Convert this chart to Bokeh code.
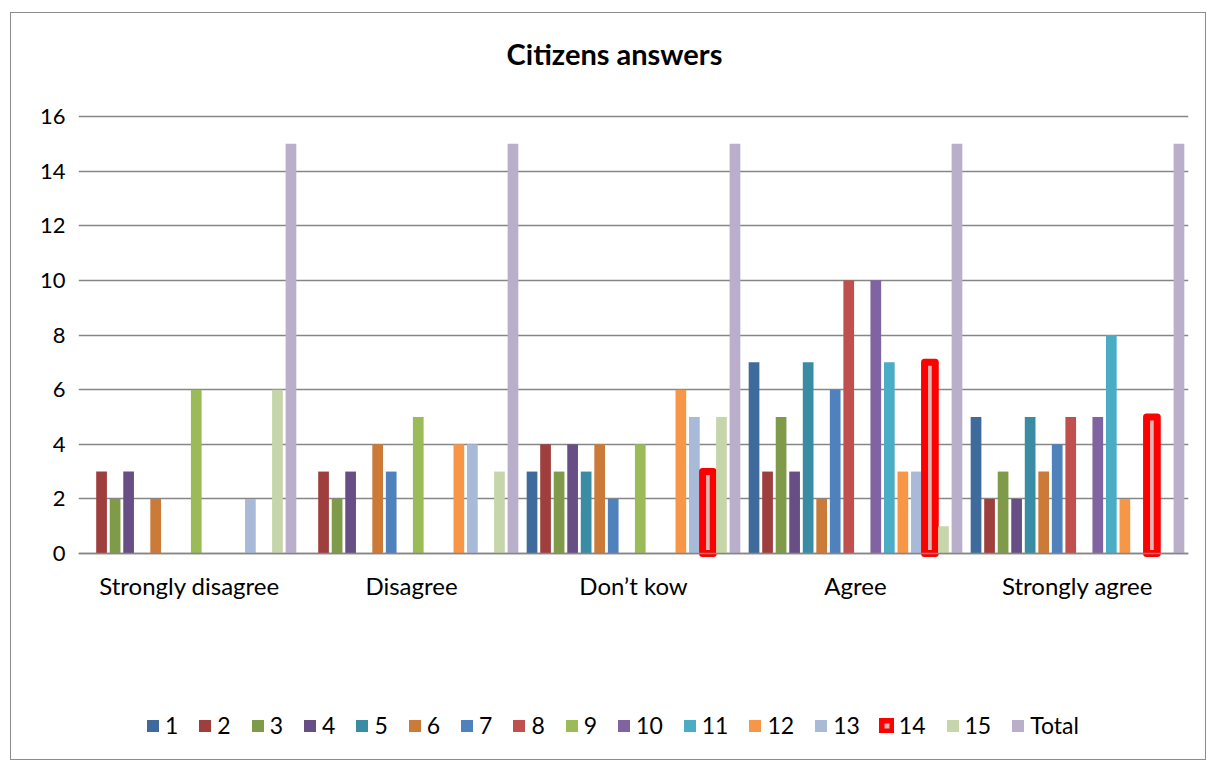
from bokeh.plotting import figure
from bokeh.models import (ColumnDataSource, FactorRange, Range1d, Legend, LegendItem,
                          FixedTicker, CategoricalAxis, Label)
from bokeh.transform import dodge
from bokeh.embed import file_html
from bokeh.resources import INLINE

title_text = "Citizens answers"
categories = ["Strongly disagree", "Disagree", "Don\u2019t kow", "Agree", "Strongly agree"]
series_names = ["1", "2", "3", "4", "5", "6", "7", "8", "9", "10",
                "11", "12", "13", "14", "15", "Total"]

s1 = [0, 0, 3, 7, 5]
s2 = [3, 3, 4, 3, 2]
s3 = [2, 2, 3, 5, 3]
s4 = [3, 3, 4, 3, 2]
s5 = [0, 0, 3, 7, 5]
s6 = [2, 4, 4, 2, 3]
s7 = [0, 3, 2, 6, 4]
s8 = [0, 0, 0, 10, 5]
s9 = [6, 5, 4, 0, 0]
s10 = [0, 0, 0, 10, 5]
s11 = [0, 0, 0, 7, 8]
s12 = [0, 4, 6, 3, 2]
s13 = [2, 4, 5, 3, 0]
s14 = [0, 0, 3, 7, 5]
s15 = [6, 3, 5, 1, 0]
total = [15, 15, 15, 15, 15]

y_ticks = [0, 2, 4, 6, 8, 10, 12, 14, 16]

series_values = [s1, s2, s3, s4, s5, s6, s7, s8, s9, s10, s11, s12, s13, s14, s15, total]

colors = ["#3F6A9C", "#9E3F3D", "#7F9A48", "#674F86", "#3A8CA5", "#CC7A37",
          "#4F81BD", "#C0504D", "#9BBB59", "#8064A2", "#4BACC6", "#F79646",
          "#A9BAD8", "#DDB5B5", "#C6D6AA", "#BAAFCB"]

FONT = "Lato"

# frame spans the whole inner area; the value axis 0..16 occupies the middle band
p = figure(width=1196, height=748, x_range=FactorRange(*categories, range_padding=0),
           y_range=Range1d(-7.066, 19.478), output_backend="svg", toolbar_location=None,
           min_border_left=67, min_border_right=19, min_border_top=8, min_border_bottom=15,
           x_axis_location=None,
           margin=(12, 0, 0, 10), styles={"border": "1px solid #8c8c8c"})

slot = 13.53 / 222.0
bw = 10.7 / 222.0

items = []
for i, (name, vals, col) in enumerate(zip(series_names, series_values, colors)):
    cats = [c for c, v in zip(categories, vals) if v > 0]
    tops = [v for v in vals if v > 0]
    src = ColumnDataSource(dict(cat=cats, top=tops))
    off = (i - 7.5) * slot
    if name == "14":
        r = p.vbar(x=dodge("cat", off, range=p.x_range), top="top", bottom=0, width=bw,
                   source=src, fill_color=col, line_color="#FF0000", line_width=7,
                   line_join="round")
    else:
        r = p.vbar(x=dodge("cat", off, range=p.x_range), top="top", bottom=0, width=bw,
                   source=src, fill_color=col, line_color=None)
    items.append(LegendItem(label=name, renderers=[r]))

xaxis = CategoricalAxis(fixed_location=0)
xaxis.axis_line_color = "#868686"
xaxis.axis_line_width = 1.5
xaxis.major_tick_line_color = None
xaxis.minor_tick_line_color = None
xaxis.major_label_text_font = FONT
xaxis.major_label_text_font_size = "24px"
xaxis.major_label_text_color = "#000000"
xaxis.major_label_standoff = 11
p.add_layout(xaxis, "below")

p.xgrid.grid_line_color = None
p.ygrid.ticker = FixedTicker(ticks=y_ticks)
p.ygrid.grid_line_color = "#868686"
p.ygrid.grid_line_width = 1.5
p.yaxis.ticker = FixedTicker(ticks=y_ticks)
p.yaxis.axis_line_color = None
p.yaxis.major_tick_line_color = None
p.yaxis.minor_tick_line_color = None
p.yaxis.major_label_text_font = FONT
p.yaxis.major_label_text_font_size = "22px"
p.yaxis.major_label_text_color = "#000000"
p.yaxis.major_label_standoff = 7
p.outline_line_color = None

title = Label(x=536, y=693, x_units="screen", y_units="screen", text=title_text,
              text_align="center", text_baseline="middle", text_font=FONT,
              text_font_size="29px", text_font_style="bold", text_color="#000000")
p.add_layout(title)

legend = Legend(items=items, orientation="horizontal", location=(67, 7),
                label_text_font=FONT, label_text_font_size="23px", label_standoff=5,
                label_text_color="#000000", label_width=0,
                glyph_width=15, glyph_height=15, spacing=19, padding=0, margin=0,
                border_line_color=None, background_fill_alpha=0)
p.add_layout(legend, "center")

open("out.html", "w").write(file_html(p, INLINE))
